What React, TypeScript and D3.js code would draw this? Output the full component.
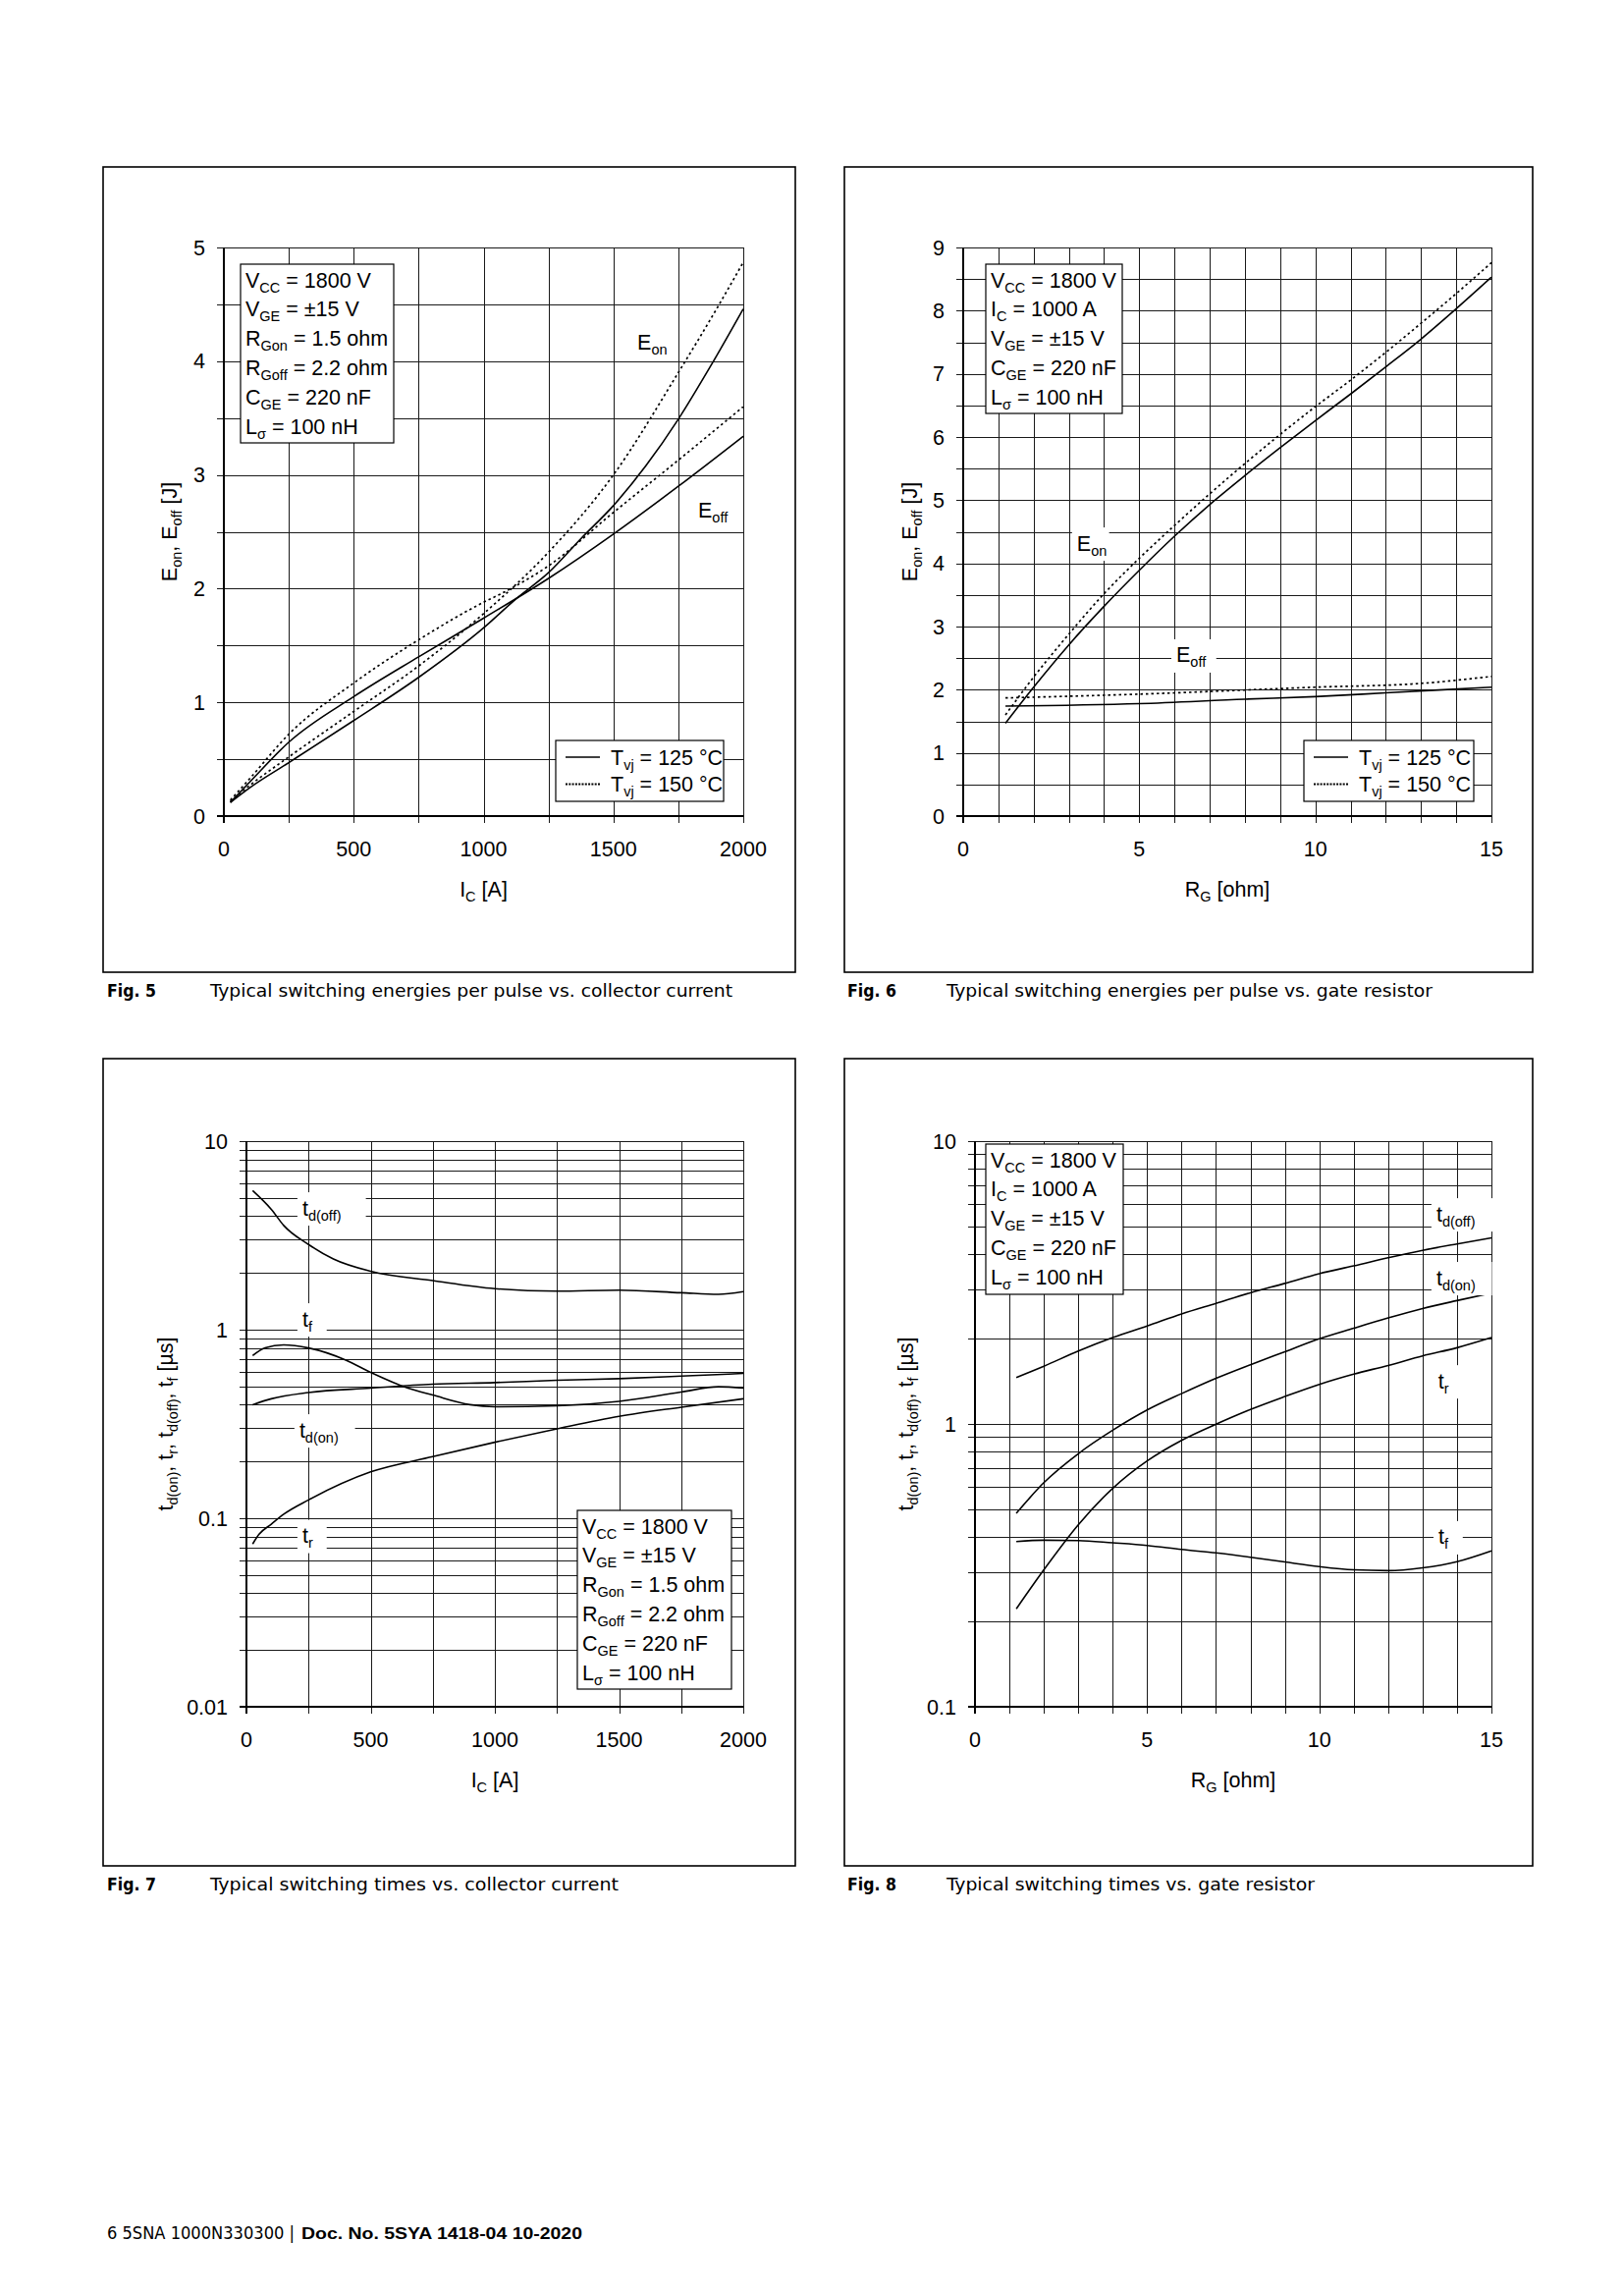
import React from "react";
import * as d3 from "d3";

const FONT = "'Liberation Sans', Arial, Helvetica, sans-serif";
const CAP_FONT = "'DejaVu Sans Condensed', 'DejaVu Sans', Verdana, sans-serif";
const FS = 21.5;
const SUB_FS = 14.5;

// ---------------- Fig. 5 data (E vs Ic) ----------------
const fig5IcOn125 = [25, 100, 250, 500, 750, 1000, 1125, 1250, 1375, 1500, 1625, 1750, 1875, 2000];
const fig5Eon125 = [0.12, 0.25, 0.47, 0.84, 1.22, 1.655, 1.91, 2.14, 2.44, 2.73, 3.08, 3.49, 3.96, 4.46];
const fig5IcOn150 = [25, 100, 250, 500, 750, 1000, 1250, 1500, 1750, 1900, 2000];
const fig5Eon150 = [0.13, 0.27, 0.52, 0.92, 1.32, 1.78, 2.32, 3.0, 3.9, 4.47, 4.87];
const fig5IcOff125 = [25, 100, 250, 500, 750, 1000, 1250, 1500, 1750, 2000];
const fig5Eoff125 = [0.12, 0.3, 0.65, 1.05, 1.4, 1.74, 2.09, 2.48, 2.9, 3.34];
const fig5IcOff150 = [25, 100, 250, 500, 750, 1000, 1080, 1250, 1500, 1750, 2000];
const fig5Eoff150 = [0.14, 0.33, 0.72, 1.17, 1.55, 1.88, 1.97, 2.2, 2.67, 3.13, 3.6];
const fig5XTicks = [0, 500, 1000, 1500, 2000];
const fig5YTicks = [0, 1, 2, 3, 4, 5];

// ---------------- Fig. 6 data (E vs Rg) ----------------
const fig6Rg = [1.2, 2, 3, 4, 5, 6, 7, 8, 9, 10, 11, 12, 13, 14, 15];
const fig6Eon125 = [1.47, 2.04, 2.71, 3.32, 3.89, 4.43, 4.93, 5.39, 5.83, 6.26, 6.68, 7.11, 7.55, 8.03, 8.53];
const fig6Eon150 = [1.6, 2.2, 2.88, 3.52, 4.08, 4.6, 5.1, 5.58, 6.04, 6.48, 6.9, 7.34, 7.8, 8.27, 8.76];
const fig6RgOff125 = [1.2, 5, 8, 10, 12, 15];
const fig6Eoff125 = [1.74, 1.78, 1.85, 1.89, 1.95, 2.04];
const fig6RgOff150 = [1.2, 5, 10, 13, 15];
const fig6Eoff150 = [1.87, 1.93, 2.04, 2.1, 2.21];
const fig6XTicks = [0, 5, 10, 15];
const fig6YTicks = [0, 1, 2, 3, 4, 5, 6, 7, 8, 9];

// ---------------- Fig. 7 data (t vs Ic) ----------------
const fig7IcTdOff = [25, 100, 150, 250, 350, 500, 750, 1000, 1250, 1500, 1750, 1900, 2000];
const fig7TdOff = [5.47, 4.35, 3.57, 2.83, 2.37, 2.04, 1.82, 1.65, 1.6, 1.62, 1.57, 1.54, 1.59];
const fig7IcTf = [25, 75, 150, 250, 400, 500, 650, 750, 900, 1000, 1250, 1500, 1750, 1900, 2000];
const fig7Tf = [0.728, 0.8, 0.83, 0.8, 0.69, 0.594, 0.49, 0.45, 0.4, 0.39, 0.395, 0.417, 0.467, 0.498, 0.49];
const fig7IcTdOn = [25, 100, 250, 500, 750, 1000, 1250, 1500, 1750, 2000];
const fig7TdOn = [0.4, 0.43, 0.464, 0.49, 0.514, 0.524, 0.539, 0.55, 0.567, 0.586];
const fig7IcTr = [25, 50, 100, 150, 250, 500, 750, 1000, 1250, 1500, 1750, 2000];
const fig7Tr = [0.073, 0.082, 0.093, 0.105, 0.125, 0.176, 0.212, 0.253, 0.298, 0.347, 0.388, 0.43];
const fig7XTicks = [0, 500, 1000, 1500, 2000];
const fig7YTicks = [0.01, 0.1, 1, 10];

// ---------------- Fig. 8 data (t vs Rg) ----------------
const fig8Rg = [1.2, 2, 3, 4, 5, 6, 7, 8, 9, 10, 11, 12, 13, 14, 15];
const fig8TdOff = [1.46, 1.6, 1.81, 2.02, 2.22, 2.45, 2.67, 2.91, 3.14, 3.4, 3.62, 3.87, 4.11, 4.33, 4.55];
const fig8TdOn = [0.483, 0.62, 0.785, 0.95, 1.12, 1.28, 1.45, 1.62, 1.8, 2.0, 2.18, 2.37, 2.56, 2.73, 2.9];
const fig8Tr = [0.222, 0.305, 0.44, 0.592, 0.74, 0.875, 0.998, 1.125, 1.25, 1.38, 1.5, 1.61, 1.74, 1.86, 2.02];
const fig8Tf = [0.384, 0.388, 0.387, 0.38, 0.372, 0.36, 0.35, 0.338, 0.325, 0.313, 0.305, 0.303, 0.31, 0.326, 0.356];
const fig8XTicks = [0, 5, 10, 15];
const fig8YTicks = [0.1, 1, 10];

// ---------------- texts ----------------
const condIc = ["V_{CC} = 1800 V", "V_{GE} = ±15 V", "R_{Gon} = 1.5 ohm", "R_{Goff} = 2.2 ohm", "C_{GE} = 220 nF", "L_{σ} = 100 nH"];
const condRg = ["V_{CC} = 1800 V", "I_{C} = 1000 A", "V_{GE} = ±15 V", "C_{GE} = 220 nF", "L_{σ} = 100 nH"];
const legendLabels = ["T_{vj} = 125 °C", "T_{vj} = 150 °C"];
const captions = [
  ["Fig. 5", "Typical switching energies per pulse vs. collector current"],
  ["Fig. 6", "Typical switching energies per pulse vs. gate resistor"],
  ["Fig. 7", "Typical switching times vs. collector current"],
  ["Fig. 8", "Typical switching times vs. gate resistor"],
];
const footerRegular = "6 5SNA 1000N330300 |";
const footerBold = "Doc. No. 5SYA 1418-04 10-2020";

function parseRich(s: string) {
  const out: { t: string; sub: boolean }[] = [];
  const re = /_\{([^}]*)\}/g;
  let last = 0;
  let m: RegExpExecArray | null;
  while ((m = re.exec(s))) {
    if (m.index > last) out.push({ t: s.slice(last, m.index), sub: false });
    out.push({ t: m[1], sub: true });
    last = re.lastIndex;
  }
  if (last < s.length) out.push({ t: s.slice(last), sub: false });
  return out;
}

function Rich({ s, subSize = SUB_FS, shift = 5 }: { s: string; subSize?: number; shift?: number }) {
  const parts = parseRich(s);
  let inSub = false;
  return (
    <>
      {parts.map((p, i) => {
        let dy = 0;
        if (p.sub && !inSub) dy = shift;
        if (!p.sub && inSub) dy = -shift;
        inSub = p.sub;
        return (
          <tspan key={i} dy={dy || undefined} fontSize={p.sub ? subSize : undefined}>
            {p.t}
          </tspan>
        );
      })}
    </>
  );
}

function estWidth(s: string) {
  return parseRich(s).reduce((a, p) => a + p.t.length * (p.sub ? SUB_FS : FS) * 0.55, 0);
}

const crisp = (v: number) => Math.round(v) + 0.5;

type Series = { x: number[]; y: number[]; dashed: boolean };
type Label = { text: string; x: number; y: number };
type Cfg = {
  frame: number[];
  plot: number[];
  xDomain: number[];
  yDomain: number[];
  log: boolean;
  xGrid: number[];
  xTicks: number[];
  yTicks: number[];
  xTitle: string;
  yTitle: string;
  yTitleX: number;
  series: Series[];
  labels: Label[];
  cond: string[];
  condBox: number[];
  legend: boolean;
  legendBox?: number[];
  caption: string[];
  capLen: number;
  capNumX: number;
  capTextX: number;
};

function Chart({ c }: { c: Cfg }) {
  const [fx0, fy0, fx1, fy1] = c.frame;
  const [pl, pt, pr, pb] = c.plot;
  const x = d3.scaleLinear().domain(c.xDomain).range([pl, pr]);
  const y: any = (c.log ? d3.scaleLog() : d3.scaleLinear()).domain(c.yDomain).range([pb, pt]);
  const yGrid: number[] = c.log ? y.ticks() : d3.range(c.yDomain[0], c.yDomain[1] + 0.001, 0.5);
  const line = d3
    .line<[number, number]>()
    .x((d) => x(d[0]))
    .y((d) => y(d[1]))
    .curve(d3.curveMonotoneX);
  const [bx0, by0, bx1, by1] = c.condBox;
  const rowStep = 29.9;
  const capY = fy1 + 25;
  return (
    <g>
      <rect x={fx0} y={fy0} width={fx1 - fx0} height={fy1 - fy0} fill="none" stroke="#000" strokeWidth={1.6} />
      <g stroke="#1a1a1a" strokeWidth={1} shapeRendering="crispEdges">
        {yGrid.map((v, i) => (
          <line key={"h" + i} x1={pl - 7} x2={pr} y1={crisp(y(v))} y2={crisp(y(v))} />
        ))}
        {c.xGrid.map((v, i) => (
          <line key={"v" + i} x1={crisp(x(v))} x2={crisp(x(v))} y1={pt} y2={pb + 7} />
        ))}
      </g>
      <g stroke="#000" strokeWidth={2} shapeRendering="crispEdges">
        <line x1={Math.round(pl)} x2={Math.round(pl)} y1={pt} y2={pb + 7} />
        <line x1={pl - 7} x2={pr} y1={Math.round(pb)} y2={Math.round(pb)} />
      </g>
      <rect x={bx0} y={by0} width={bx1 - bx0} height={by1 - by0} fill="#fff" stroke="#000" strokeWidth={1.2} />
      <g fontFamily={FONT} fontSize={FS} fill="#000" style={{ whiteSpace: "pre" }}>
        {c.cond.map((s, i) => (
          <text key={i} x={bx0 + 5} y={by0 + 16 + i * rowStep} dy="0.35em">
            <Rich s={s} />
          </text>
        ))}
      </g>
      <g fill="none" stroke="#000">
        {c.series.map((s, i) => (
          <path
            key={i}
            d={line(s.x.map((xv, j) => [xv, s.y[j]] as [number, number])) || ""}
            strokeWidth={s.dashed ? 1.7 : 1.6}
            strokeDasharray={s.dashed ? "2.5,3" : undefined}
          />
        ))}
      </g>
      <g fontFamily={FONT} fontSize={FS} fill="#000" style={{ whiteSpace: "pre" }}>
        {c.labels.map((l, i) => {
          const w = estWidth(l.text);
          return (
            <g key={i}>
              <rect x={x(l.x) - 5} y={y(l.y) - 16} width={w + 10} height={34} fill="#fff" />
              <text x={x(l.x)} y={y(l.y)} dy="0.35em">
                <Rich s={l.text} />
              </text>
            </g>
          );
        })}
      </g>
      {c.legend && c.legendBox && (
        <g fontFamily={FONT} fontSize={FS} fill="#000" style={{ whiteSpace: "pre" }}>
          <rect
            x={c.legendBox[0]}
            y={c.legendBox[1]}
            width={c.legendBox[2] - c.legendBox[0]}
            height={c.legendBox[3] - c.legendBox[1]}
            fill="#fff"
            stroke="#000"
            strokeWidth={1.2}
          />
          {legendLabels.map((s, i) => {
            const ry = c.legendBox![1] + 17 + i * 27.5;
            return (
              <g key={i}>
                <line
                  x1={c.legendBox![0] + 10}
                  x2={c.legendBox![0] + 45}
                  y1={ry}
                  y2={ry}
                  stroke="#000"
                  strokeWidth={i ? 2.2 : 1.6}
                  strokeDasharray={i ? "2,1.3" : undefined}
                />
                <text x={c.legendBox![0] + 56} y={ry} dy="0.35em">
                  <Rich s={s} />
                </text>
              </g>
            );
          })}
        </g>
      )}
      <g fontFamily={FONT} fontSize={FS} fill="#000">
        {c.xTicks.map((v, i) => (
          <text key={"x" + i} x={x(v)} y={pb + 41} textAnchor="middle">
            {String(v)}
          </text>
        ))}
        {c.yTicks.map((v, i) => (
          <text key={"y" + i} x={pl - 19} y={y(v)} dy="0.35em" textAnchor="end">
            {String(v)}
          </text>
        ))}
      </g>
      <g fontFamily={FONT} fontSize={FS} fill="#000" style={{ whiteSpace: "pre" }}>
        <text x={(pl + pr) / 2} y={pb + 82} textAnchor="middle">
          <Rich s={c.xTitle} />
        </text>
        <text transform={`translate(${c.yTitleX},${(pt + pb) / 2}) rotate(-90)`} textAnchor="middle" dy="0.35em">
          <Rich s={c.yTitle} />
        </text>
      </g>
      <text x={c.capNumX} y={capY} fontFamily={CAP_FONT} fontWeight="bold" fontSize={17.5} fill="#000">
        {c.caption[0]}
      </text>
      <text
        x={c.capTextX}
        y={capY}
        fontFamily={CAP_FONT}
        fontSize={17}
        fill="#000"
        textLength={c.capLen}
        lengthAdjust="spacingAndGlyphs"
      >
        {c.caption[1]}
      </text>
    </g>
  );
}

const gridIc = d3.range(0, 2001, 250);
const gridRg = d3.range(0, 15.01, 1);

const cfgs: Cfg[] = [
  {
    frame: [105, 170, 810, 990],
    plot: [228, 252, 757, 831],
    xDomain: [0, 2000],
    yDomain: [0, 5],
    log: false,
    xGrid: gridIc,
    xTicks: fig5XTicks,
    yTicks: fig5YTicks,
    xTitle: "I_{C} [A]",
    yTitle: "E_{on}, E_{off} [J]",
    yTitleX: 172,
    series: [
      { x: fig5IcOn125, y: fig5Eon125, dashed: false },
      { x: fig5IcOn150, y: fig5Eon150, dashed: true },
      { x: fig5IcOff125, y: fig5Eoff125, dashed: false },
      { x: fig5IcOff150, y: fig5Eoff150, dashed: true },
    ],
    labels: [
      { text: "E_{on}", x: 1592, y: 4.17 },
      { text: "E_{off}", x: 1826, y: 2.69 },
    ],
    cond: condIc,
    condBox: [245, 269, 401, 451],
    legend: true,
    legendBox: [566, 754, 737, 816],
    caption: captions[0],
    capLen: 532,
    capNumX: 109,
    capTextX: 214,
  },
  {
    frame: [860, 170, 1561, 990],
    plot: [981, 252, 1519, 831],
    xDomain: [0, 15],
    yDomain: [0, 9],
    log: false,
    xGrid: gridRg,
    xTicks: fig6XTicks,
    yTicks: fig6YTicks,
    xTitle: "R_{G} [ohm]",
    yTitle: "E_{on}, E_{off} [J]",
    yTitleX: 926,
    series: [
      { x: fig6Rg, y: fig6Eon125, dashed: false },
      { x: fig6Rg, y: fig6Eon150, dashed: true },
      { x: fig6RgOff125, y: fig6Eoff125, dashed: false },
      { x: fig6RgOff150, y: fig6Eoff150, dashed: true },
    ],
    labels: [
      { text: "E_{on}", x: 3.23, y: 4.32 },
      { text: "E_{off}", x: 6.05, y: 2.55 },
    ],
    cond: condRg,
    condBox: [1004, 269, 1143, 421],
    legend: true,
    legendBox: [1328, 754, 1501, 816],
    caption: captions[1],
    capLen: 495,
    capNumX: 863,
    capTextX: 964,
  },
  {
    frame: [105, 1078, 810, 1900],
    plot: [251, 1162, 757, 1738],
    xDomain: [0, 2000],
    yDomain: [0.01, 10],
    log: true,
    xGrid: gridIc,
    xTicks: fig7XTicks,
    yTicks: fig7YTicks,
    xTitle: "I_{C} [A]",
    yTitle: "t_{d(on)}, t_{r}, t_{d(off)}, t_{f} [µs]",
    yTitleX: 168,
    series: [
      { x: fig7IcTdOff, y: fig7TdOff, dashed: false },
      { x: fig7IcTf, y: fig7Tf, dashed: false },
      { x: fig7IcTdOn, y: fig7TdOn, dashed: false },
      { x: fig7IcTr, y: fig7Tr, dashed: false },
    ],
    labels: [
      { text: "t_{d(off)}", x: 225, y: 4.42 },
      { text: "t_{f}", x: 225, y: 1.14 },
      { text: "t_{d(on)}", x: 213, y: 0.294 },
      { text: "t_{r}", x: 225, y: 0.081 },
    ],
    cond: condIc,
    condBox: [588, 1538, 745, 1720],
    legend: false,
    caption: captions[2],
    capLen: 416,
    capNumX: 109,
    capTextX: 214,
  },
  {
    frame: [860, 1078, 1561, 1900],
    plot: [993, 1162, 1519, 1738],
    xDomain: [0, 15],
    yDomain: [0.1, 10],
    log: true,
    xGrid: gridRg,
    xTicks: fig8XTicks,
    yTicks: fig8YTicks,
    xTitle: "R_{G} [ohm]",
    yTitle: "t_{d(on)}, t_{r}, t_{d(off)}, t_{f} [µs]",
    yTitleX: 922,
    series: [
      { x: fig8Rg, y: fig8TdOff, dashed: false },
      { x: fig8Rg, y: fig8TdOn, dashed: false },
      { x: fig8Rg, y: fig8Tr, dashed: false },
      { x: fig8Rg, y: fig8Tf, dashed: false },
    ],
    labels: [
      { text: "t_{d(off)}", x: 13.4, y: 5.53 },
      { text: "t_{d(on)}", x: 13.4, y: 3.29 },
      { text: "t_{r}", x: 13.45, y: 1.42 },
      { text: "t_{f}", x: 13.46, y: 0.399 },
    ],
    cond: condRg,
    condBox: [1004, 1165, 1144, 1318],
    legend: false,
    caption: captions[3],
    capLen: 375,
    capNumX: 863,
    capTextX: 964,
  },
];

export default function App() {
  return (
    <svg
      width={1653}
      height={2338}
      viewBox="0 0 1653 2338"
      style={{ position: "absolute", left: 0, top: 0, background: "#fff" }}
    >
      <rect x={0} y={0} width={1653} height={2338} fill="#fff" />
      {cfgs.map((c, i) => (
        <Chart key={i} c={c} />
      ))}
      <text
        x={109}
        y={2280}
        fontFamily={CAP_FONT}
        fontSize={17}
        fill="#000"
        textLength={191}
        lengthAdjust="spacingAndGlyphs"
      >
        {footerRegular}
      </text>
      <text
        x={307}
        y={2280}
        fontFamily={FONT}
        fontWeight="bold"
        fontSize={17}
        fill="#000"
        textLength={286}
        lengthAdjust="spacingAndGlyphs"
      >
        {footerBold}
      </text>
    </svg>
  );
}
